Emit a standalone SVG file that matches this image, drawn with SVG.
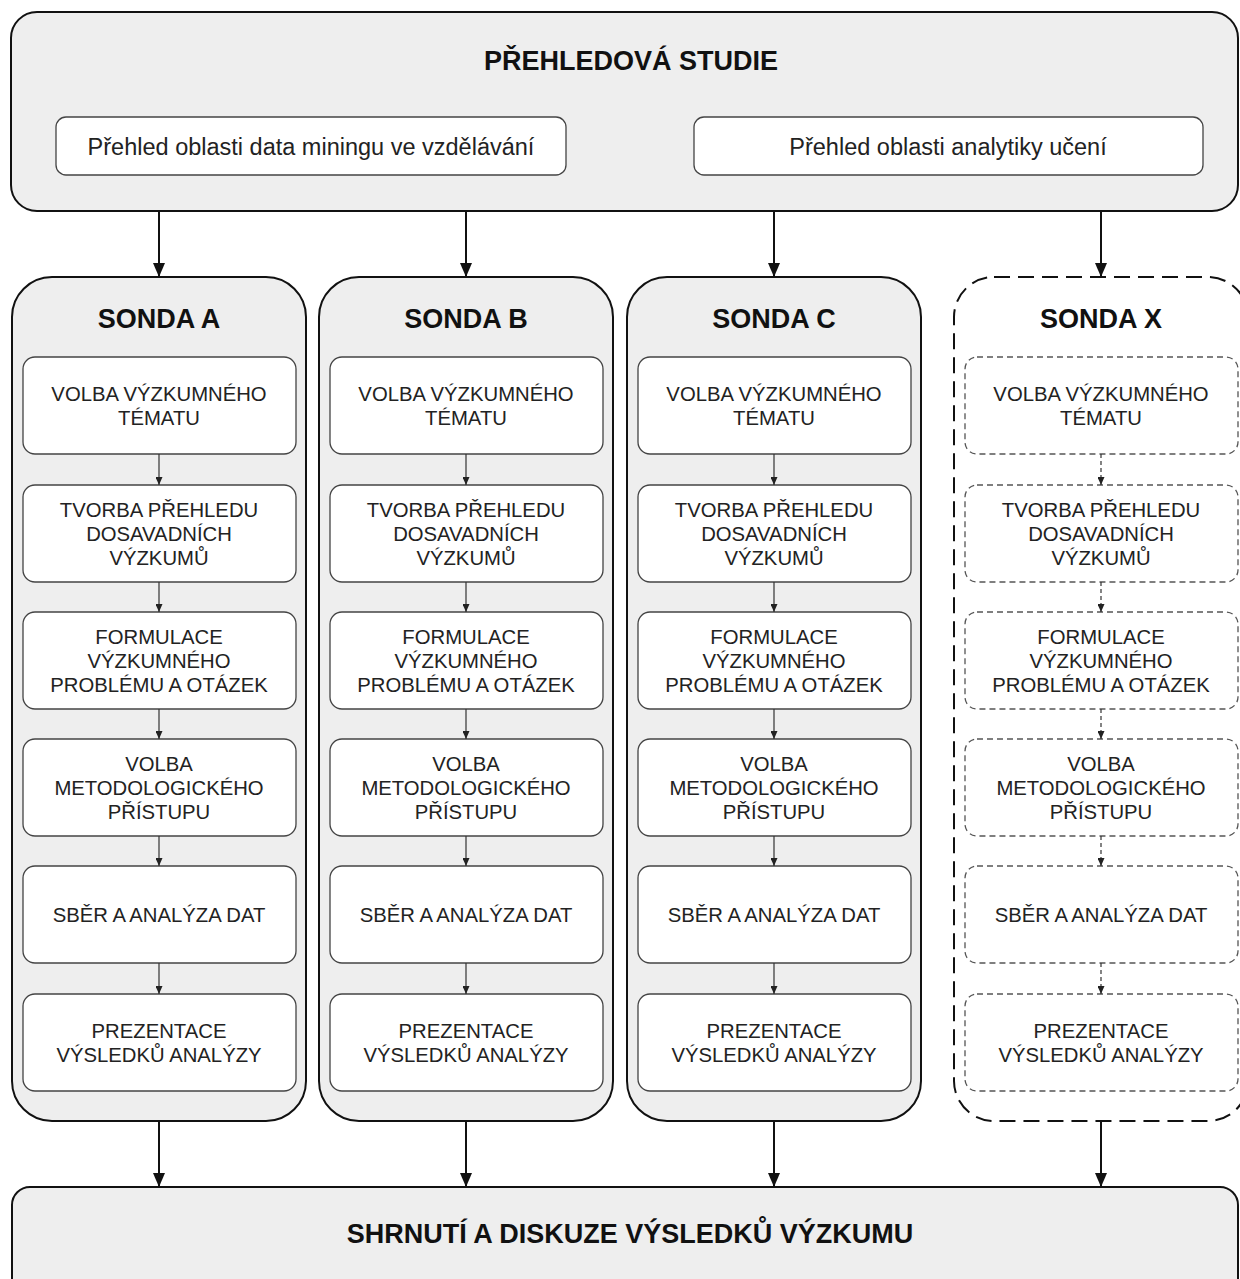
<svg xmlns="http://www.w3.org/2000/svg" width="1240" height="1279" viewBox="0 0 1240 1279">
  <style>
    .frame { fill: #eeeeee; stroke: #111; stroke-width: 2; }
    .frame-dash { fill: #ffffff; stroke: #111; stroke-width: 2; stroke-dasharray: 16 8; }
    .step { fill: #ffffff; stroke: #444; stroke-width: 1.3; }
    .step-dash { fill: #ffffff; stroke: #555; stroke-width: 1.3; stroke-dasharray: 6 4; }
    .title { font-family: "Liberation Sans", Arial, sans-serif; font-weight: bold; font-size: 27px; fill: #111; text-anchor: middle; }
    .label { font-family: "Liberation Sans", Arial, sans-serif; font-size: 20.3px; fill: #222; text-anchor: middle; }
    .sub { font-family: "Liberation Sans", Arial, sans-serif; font-size: 23.5px; fill: #222; text-anchor: middle; }
    .big { stroke: #111; stroke-width: 2; fill: none; }
    .small { stroke: #333; stroke-width: 1.2; fill: none; }
    .small-dash { stroke: #333; stroke-width: 1.2; fill: none; stroke-dasharray: 4 3; }
  </style>
  <defs>
    <marker id="head" markerUnits="userSpaceOnUse" markerWidth="14" markerHeight="12" refX="14" refY="6" orient="auto">
      <path d="M0,0 L14,6 L0,12 z" fill="#111"/>
    </marker>
    <marker id="head-small" markerUnits="userSpaceOnUse" markerWidth="8" markerHeight="7" refX="8" refY="3.5" orient="auto">
      <path d="M0,0 L8,3.5 L0,7 z" fill="#222"/>
    </marker>
  </defs>

  <!-- Overview study -->
  <g id="prehledova-studie">
    <rect class="frame" x="11" y="12" width="1227" height="199" rx="26"/>
    <text class="title" x="631" y="70">PŘEHLEDOVÁ STUDIE</text>
    <g id="prehled-dm">
      <rect class="step" x="56" y="117" width="510" height="58" rx="10"/>
      <text class="sub" x="311" y="155">Přehled oblasti data miningu ve vzdělávání</text>
    </g>
    <g id="prehled-au">
      <rect class="step" x="694" y="117" width="509" height="58" rx="10"/>
      <text class="sub" x="948" y="155">Přehled oblasti analytiky učení</text>
    </g>
  </g>

  <!-- Probe A -->
  <g id="sonda-a">
    <rect class="frame" x="12" y="277" width="294" height="844" rx="40"/>
    <text class="title" x="159" y="328">SONDA A</text>
    <g id="a1"><rect class="step" x="23" y="357" width="273" height="97" rx="12"/>
      <text class="label" x="159" y="401">VOLBA VÝZKUMNÉHO</text><text class="label" x="159" y="425">TÉMATU</text></g>
    <g id="a2"><rect class="step" x="23" y="485" width="273" height="97" rx="12"/>
      <text class="label" x="159" y="517">TVORBA PŘEHLEDU</text><text class="label" x="159" y="541">DOSAVADNÍCH</text><text class="label" x="159" y="565">VÝZKUMŮ</text></g>
    <g id="a3"><rect class="step" x="23" y="612" width="273" height="97" rx="12"/>
      <text class="label" x="159" y="644">FORMULACE</text><text class="label" x="159" y="668">VÝZKUMNÉHO</text><text class="label" x="159" y="692">PROBLÉMU A OTÁZEK</text></g>
    <g id="a4"><rect class="step" x="23" y="739" width="273" height="97" rx="12"/>
      <text class="label" x="159" y="771">VOLBA</text><text class="label" x="159" y="795">METODOLOGICKÉHO</text><text class="label" x="159" y="819">PŘÍSTUPU</text></g>
    <g id="a5"><rect class="step" x="23" y="866" width="273" height="97" rx="12"/>
      <text class="label" x="159" y="922">SBĚR A ANALÝZA DAT</text></g>
    <g id="a6"><rect class="step" x="23" y="994" width="273" height="97" rx="12"/>
      <text class="label" x="159" y="1038">PREZENTACE</text><text class="label" x="159" y="1062">VÝSLEDKŮ ANALÝZY</text></g>
  </g>

  <!-- Probe B -->
  <g id="sonda-b">
    <rect class="frame" x="319" y="277" width="294" height="844" rx="40"/>
    <text class="title" x="466" y="328">SONDA B</text>
    <g id="b1"><rect class="step" x="330" y="357" width="273" height="97" rx="12"/>
      <text class="label" x="466" y="401">VOLBA VÝZKUMNÉHO</text><text class="label" x="466" y="425">TÉMATU</text></g>
    <g id="b2"><rect class="step" x="330" y="485" width="273" height="97" rx="12"/>
      <text class="label" x="466" y="517">TVORBA PŘEHLEDU</text><text class="label" x="466" y="541">DOSAVADNÍCH</text><text class="label" x="466" y="565">VÝZKUMŮ</text></g>
    <g id="b3"><rect class="step" x="330" y="612" width="273" height="97" rx="12"/>
      <text class="label" x="466" y="644">FORMULACE</text><text class="label" x="466" y="668">VÝZKUMNÉHO</text><text class="label" x="466" y="692">PROBLÉMU A OTÁZEK</text></g>
    <g id="b4"><rect class="step" x="330" y="739" width="273" height="97" rx="12"/>
      <text class="label" x="466" y="771">VOLBA</text><text class="label" x="466" y="795">METODOLOGICKÉHO</text><text class="label" x="466" y="819">PŘÍSTUPU</text></g>
    <g id="b5"><rect class="step" x="330" y="866" width="273" height="97" rx="12"/>
      <text class="label" x="466" y="922">SBĚR A ANALÝZA DAT</text></g>
    <g id="b6"><rect class="step" x="330" y="994" width="273" height="97" rx="12"/>
      <text class="label" x="466" y="1038">PREZENTACE</text><text class="label" x="466" y="1062">VÝSLEDKŮ ANALÝZY</text></g>
  </g>

  <!-- Probe C -->
  <g id="sonda-c">
    <rect class="frame" x="627" y="277" width="294" height="844" rx="40"/>
    <text class="title" x="774" y="328">SONDA C</text>
    <g id="c1"><rect class="step" x="638" y="357" width="273" height="97" rx="12"/>
      <text class="label" x="774" y="401">VOLBA VÝZKUMNÉHO</text><text class="label" x="774" y="425">TÉMATU</text></g>
    <g id="c2"><rect class="step" x="638" y="485" width="273" height="97" rx="12"/>
      <text class="label" x="774" y="517">TVORBA PŘEHLEDU</text><text class="label" x="774" y="541">DOSAVADNÍCH</text><text class="label" x="774" y="565">VÝZKUMŮ</text></g>
    <g id="c3"><rect class="step" x="638" y="612" width="273" height="97" rx="12"/>
      <text class="label" x="774" y="644">FORMULACE</text><text class="label" x="774" y="668">VÝZKUMNÉHO</text><text class="label" x="774" y="692">PROBLÉMU A OTÁZEK</text></g>
    <g id="c4"><rect class="step" x="638" y="739" width="273" height="97" rx="12"/>
      <text class="label" x="774" y="771">VOLBA</text><text class="label" x="774" y="795">METODOLOGICKÉHO</text><text class="label" x="774" y="819">PŘÍSTUPU</text></g>
    <g id="c5"><rect class="step" x="638" y="866" width="273" height="97" rx="12"/>
      <text class="label" x="774" y="922">SBĚR A ANALÝZA DAT</text></g>
    <g id="c6"><rect class="step" x="638" y="994" width="273" height="97" rx="12"/>
      <text class="label" x="774" y="1038">PREZENTACE</text><text class="label" x="774" y="1062">VÝSLEDKŮ ANALÝZY</text></g>
  </g>

  <!-- Probe X (open-ended, dashed) -->
  <g id="sonda-x">
    <rect class="frame-dash" x="954" y="277" width="294" height="844" rx="40"/>
    <text class="title" x="1101" y="328">SONDA X</text>
    <g id="x1"><rect class="step-dash" x="965" y="357" width="273" height="97" rx="12"/>
      <text class="label" x="1101" y="401">VOLBA VÝZKUMNÉHO</text><text class="label" x="1101" y="425">TÉMATU</text></g>
    <g id="x2"><rect class="step-dash" x="965" y="485" width="273" height="97" rx="12"/>
      <text class="label" x="1101" y="517">TVORBA PŘEHLEDU</text><text class="label" x="1101" y="541">DOSAVADNÍCH</text><text class="label" x="1101" y="565">VÝZKUMŮ</text></g>
    <g id="x3"><rect class="step-dash" x="965" y="612" width="273" height="97" rx="12"/>
      <text class="label" x="1101" y="644">FORMULACE</text><text class="label" x="1101" y="668">VÝZKUMNÉHO</text><text class="label" x="1101" y="692">PROBLÉMU A OTÁZEK</text></g>
    <g id="x4"><rect class="step-dash" x="965" y="739" width="273" height="97" rx="12"/>
      <text class="label" x="1101" y="771">VOLBA</text><text class="label" x="1101" y="795">METODOLOGICKÉHO</text><text class="label" x="1101" y="819">PŘÍSTUPU</text></g>
    <g id="x5"><rect class="step-dash" x="965" y="866" width="273" height="97" rx="12"/>
      <text class="label" x="1101" y="922">SBĚR A ANALÝZA DAT</text></g>
    <g id="x6"><rect class="step-dash" x="965" y="994" width="273" height="97" rx="12"/>
      <text class="label" x="1101" y="1038">PREZENTACE</text><text class="label" x="1101" y="1062">VÝSLEDKŮ ANALÝZY</text></g>
  </g>

  <!-- Summary -->
  <g id="shrnuti">
    <rect class="frame" x="12" y="1187" width="1226" height="110" rx="18"/>
    <text class="title" x="630" y="1243">SHRNUTÍ A DISKUZE VÝSLEDKŮ VÝZKUMU</text>
  </g>

  <!-- Connectors -->
  <g id="connectors">
    <!-- overview to probes -->
    <line class="big" x1="159" y1="212" x2="159" y2="277" marker-end="url(#head)"/>
    <line class="big" x1="466" y1="212" x2="466" y2="277" marker-end="url(#head)"/>
    <line class="big" x1="774" y1="212" x2="774" y2="277" marker-end="url(#head)"/>
    <line class="big" x1="1101" y1="212" x2="1101" y2="277" marker-end="url(#head)"/>
    <!-- probes to summary -->
    <line class="big" x1="159" y1="1122" x2="159" y2="1187" marker-end="url(#head)"/>
    <line class="big" x1="466" y1="1122" x2="466" y2="1187" marker-end="url(#head)"/>
    <line class="big" x1="774" y1="1122" x2="774" y2="1187" marker-end="url(#head)"/>
    <line class="big" x1="1101" y1="1122" x2="1101" y2="1187" marker-end="url(#head)"/>
    <!-- steps inside probe A -->
    <line class="small" x1="159" y1="454" x2="159" y2="485" marker-end="url(#head-small)"/>
    <line class="small" x1="159" y1="582" x2="159" y2="612" marker-end="url(#head-small)"/>
    <line class="small" x1="159" y1="709" x2="159" y2="739" marker-end="url(#head-small)"/>
    <line class="small" x1="159" y1="836" x2="159" y2="866" marker-end="url(#head-small)"/>
    <line class="small" x1="159" y1="963" x2="159" y2="994" marker-end="url(#head-small)"/>
    <!-- steps inside probe B -->
    <line class="small" x1="466" y1="454" x2="466" y2="485" marker-end="url(#head-small)"/>
    <line class="small" x1="466" y1="582" x2="466" y2="612" marker-end="url(#head-small)"/>
    <line class="small" x1="466" y1="709" x2="466" y2="739" marker-end="url(#head-small)"/>
    <line class="small" x1="466" y1="836" x2="466" y2="866" marker-end="url(#head-small)"/>
    <line class="small" x1="466" y1="963" x2="466" y2="994" marker-end="url(#head-small)"/>
    <!-- steps inside probe C -->
    <line class="small" x1="774" y1="454" x2="774" y2="485" marker-end="url(#head-small)"/>
    <line class="small" x1="774" y1="582" x2="774" y2="612" marker-end="url(#head-small)"/>
    <line class="small" x1="774" y1="709" x2="774" y2="739" marker-end="url(#head-small)"/>
    <line class="small" x1="774" y1="836" x2="774" y2="866" marker-end="url(#head-small)"/>
    <line class="small" x1="774" y1="963" x2="774" y2="994" marker-end="url(#head-small)"/>
    <!-- steps inside probe X -->
    <line class="small-dash" x1="1101" y1="454" x2="1101" y2="485" marker-end="url(#head-small)"/>
    <line class="small-dash" x1="1101" y1="582" x2="1101" y2="612" marker-end="url(#head-small)"/>
    <line class="small-dash" x1="1101" y1="709" x2="1101" y2="739" marker-end="url(#head-small)"/>
    <line class="small-dash" x1="1101" y1="836" x2="1101" y2="866" marker-end="url(#head-small)"/>
    <line class="small-dash" x1="1101" y1="963" x2="1101" y2="994" marker-end="url(#head-small)"/>
  </g>
</svg>
